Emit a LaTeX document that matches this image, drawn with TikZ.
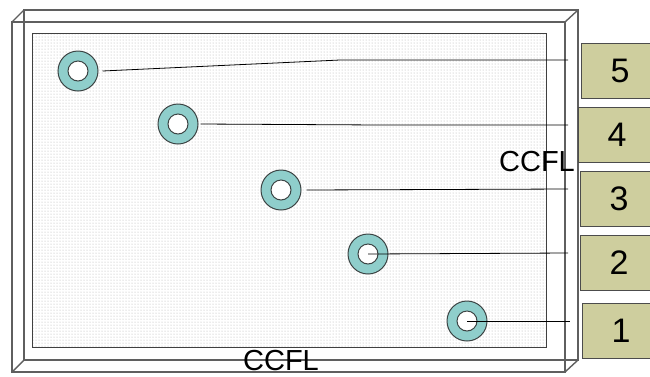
\documentclass[tikz,border=0pt]{standalone}
\usepackage{fontspec}
\setmainfont{Liberation Sans}
\usetikzlibrary{patterns}
\definecolor{ringteal}{RGB}{143,206,203}
\definecolor{ringedge}{RGB}{60,68,68}
\definecolor{tagolive}{RGB}{206,206,158}
\definecolor{frameline}{RGB}{95,95,95}
\tikzset{
  frame/.style={draw=frameline, line width=1.4pt},
  panel/.style={draw=black!75, line width=1pt, pattern=dots, pattern color=black!32},
  lamp/.style={circle, draw=ringedge, line width=1pt, fill=ringteal, minimum size=40pt, inner sep=0pt},
  hole/.style={circle, draw=ringedge, line width=1pt, fill=white, minimum size=20pt, inner sep=0pt},
  lead/.style={draw=black, line width=0.8pt},
  tag/.style={rectangle, draw=black!70, line width=1pt, fill=tagolive, minimum width=78pt, minimum height=55pt, inner sep=0pt, font=\fontsize{34}{34}\selectfont},
  caption/.style={font=\fontsize{29}{29}\selectfont, inner sep=0pt}
}
\begin{document}
\begin{tikzpicture}[x=1pt,y=-1pt]
\useasboundingbox (0,0) rectangle (650,376);
\clip (0,0) rectangle (650,376);

% transparent box: front and back faces with corner edges
\path[frame] (12,22) rectangle (565,372);
\path[frame] (24,10) rectangle (578,360);
\path[frame] (12,22) -- (24,10) (565,22) -- (578,10)
             (565,372) -- (578,360) (12,372) -- (24,360);

% stippled light guide panel
\fill[white] (32,33) rectangle (546,347);
\path[panel] (32,33) rectangle (546,347);

% lamps seen end-on
\foreach \n/\x/\y in {5/78/71, 4/178/124, 3/281/190, 2/368/254, 1/467/321}{
  \node[lamp] (lamp\n) at (\x,\y) {};
  \node[hole] (hole\n) at (\x,\y) {};
}

% numbered tags
\node[tag] (tag5) at (620,70.5) {5};
\node[tag] (tag4) at (617,134.5) {4};
\node[tag] (tag3) at (619,199) {3};
\node[tag] (tag2) at (619,263) {2};
\node[tag] (tag1) at (621,331) {1};

% lead ends
\coordinate (bend5) at (340,60);
\coordinate (end5) at (568,60);
\coordinate (bend4) at (380,125);
\coordinate (end4) at (568,125);
\coordinate (end3) at (568,189);
\coordinate (end2) at (568,253);
\coordinate (end1) at (570,321);

% leads from the lamps
\path[lead] ([xshift=4pt]lamp5.east) -- (bend5) -- (end5);
\path[lead] ([xshift=2pt]lamp4.east) -- (bend4) -- (end4);
\path[lead] ([xshift=5pt]lamp3.east) -- (end3);
\path[lead] (lamp2.center) -- (end2);
\path[lead] (lamp1.center) -- (end1);

% captions
\node[caption] (ccflside) at (537,162) {CCFL};
\node[caption] (ccflbottom) at (281,361) {CCFL};
\end{tikzpicture}
\end{document}
